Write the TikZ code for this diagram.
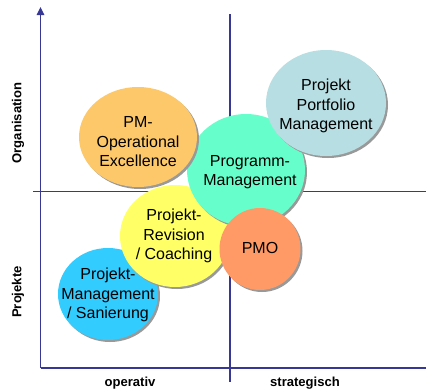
\documentclass[tikz,border=0pt]{standalone}
\usepackage{fontspec}
\setmainfont{Liberation Sans}
\usepackage{xcolor}
\usetikzlibrary{arrows.meta,positioning,shapes.geometric,shadows}

\definecolor{axisblue}{RGB}{55,55,150}
\definecolor{excorange}{RGB}{253,200,106}
\definecolor{portblue}{RGB}{183,222,226}
\definecolor{proggreen}{RGB}{102,255,204}
\definecolor{revyellow}{RGB}{255,255,102}
\definecolor{pmosalmon}{RGB}{255,153,102}
\definecolor{sanblue}{RGB}{51,204,255}

\begin{document}
\begin{tikzpicture}[x=0.75pt,y=-0.75pt,
    field/.style={drop shadow={shadow xshift=1.5pt,shadow yshift=-1.5pt,fill=black!40,opacity=1}},
    fieldtext/.style={align=center,inner sep=0pt,font=\fontsize{12}{14.6}\selectfont},
    axis/.style={draw=axisblue,line width=1.1pt},
    axislabel/.style={font=\fontsize{9.8}{12}\selectfont\bfseries}]
    \useasboundingbox (0,0) rectangle (426,390);

    % Axes
    \coordinate (origin) at (40.5,368);
    \coordinate (ytop) at (40.5,7);
    \coordinate (xend) at (426,368);
    \coordinate (midleft) at (33,191.5);
    \coordinate (midright) at (426,191.5);
    \coordinate (midtop) at (230,14);
    \coordinate (midbottom) at (230,382);
    \draw[axis,-{Triangle[length=6pt,width=5.5pt]}] (origin) -- (ytop);
    \draw[axis] (origin) -- (xend);
    \draw[axis] (midleft) -- (midright);
    \draw[axis] (midtop) -- (midbottom);

    % Axis labels
    \node[axislabel] (operativ) at (130,383) {operativ};
    \node[axislabel] (strategisch) at (305,383) {strategisch};
    \node[axislabel,rotate=90] (organisation) at (18,123) {Organisation};
    \node[axislabel,rotate=90] (projekte) at (18,292) {Projekte};

    % Fields
    \fill[field,sanblue] (108,294) ellipse [x radius=50,y radius=46];
    \node[fieldtext] (sanierung) at (108,295) {Projekt-\\Management\\/ Sanierung};
    \fill[field,revyellow] (175,236) ellipse [x radius=55,y radius=51];
    \node[fieldtext] (revision) at (174,236) {Projekt-\\Revision\\/ Coaching};
    \fill[field,proggreen] (246,170) ellipse [x radius=59,y radius=56];
    \node[fieldtext] (programm) at (250,172) {Programm-\\Management};
    \fill[field,excorange] (138,137) ellipse [x radius=59,y radius=50];
    \node[fieldtext] (excellence) at (138,142) {PM-\\Operational\\Excellence};
    \fill[field,pmosalmon] (260,249) ellipse [x radius=40.5,y radius=41];
    \node[fieldtext] (pmo) at (260,248) {PMO};
    \fill[field,portblue] (326,103) ellipse [x radius=60,y radius=53];
    \node[fieldtext] (portfolio) at (326,106) {Projekt\\Portfolio\\Management};
\end{tikzpicture}
\end{document}
